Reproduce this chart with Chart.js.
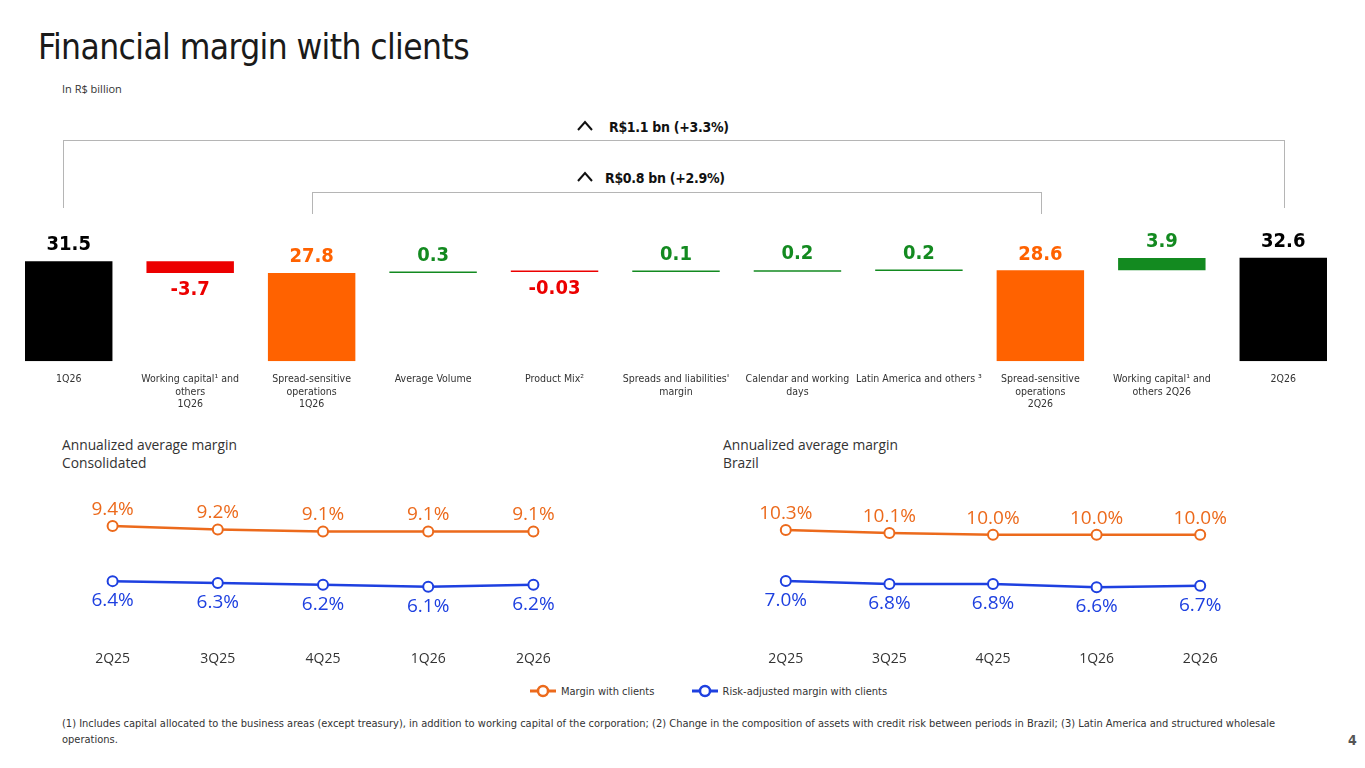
<!DOCTYPE html>
<html>
<head>
<meta charset="utf-8">
<script src="https://cdn.jsdelivr.net/npm/chart.js@4.4.1/dist/chart.umd.min.js"></script>
<style>
  body { margin: 0; width: 1365px; height: 768px; background: #fff; position: relative; overflow: hidden;
         font-family: "Liberation Sans Narrow", "DejaVu Sans Condensed", "Arial Narrow", sans-serif; color: #222; }
  .abs { position: absolute; }
  #title { left: 38px; top: 27px; font-size: 35px; letter-spacing: -0.6px; color: #1a1a1a; }
  #unit { left: 62px; top: 81px; font-family: "Open Sans", sans-serif; font-size: 11px; color: #333; }
  .hl { position: absolute; background: #b5b5b5; height: 1px; }
  .vl { position: absolute; background: #b5b5b5; width: 1px; }
  .bk { position: absolute; font-weight: bold; font-size: 14px; letter-spacing: -0.3px; color: #111; }
  .sub { position: absolute; font-family: "Open Sans", sans-serif; font-size: 13.8px; line-height: 18px; color: #333; }
  #legend { left: 530px; top: 684px; font-size: 11px; color: #333; white-space: nowrap; }
  #legend span.it { display: inline-flex; align-items: center; margin-right: 34px; }
  #legend svg { margin-right: 5px; }
  #foot { left: 62px; top: 716px; width: 1260px; font-size: 11px; line-height: 16px; color: #333; }
  #page { left: 1348px; top: 732px; font-size: 14px; font-weight: bold; color: #555; }
</style>
</head>
<body>
<div id="title" class="abs">Financial margin with clients</div>
<div id="unit" class="abs">In R$ billion</div>

<!-- brackets -->
<div class="hl" style="left:63px; top:140px; width:1222px;"></div>
<div class="vl" style="left:63px; top:140px; height:68px;"></div>
<div class="vl" style="left:1284px; top:140px; height:68px;"></div>
<div class="hl" style="left:312px; top:192px; width:730px;"></div>
<div class="vl" style="left:312px; top:192px; height:22px;"></div>
<div class="vl" style="left:1041px; top:192px; height:22px;"></div>
<svg class="abs" style="left:576px; top:119px;" width="20" height="14"><polyline points="2,11 9,3 16,11" fill="none" stroke="#111" stroke-width="2"/></svg>
<div class="bk" style="left:609px; top:119px;">R$1.1 bn (+3.3%)</div>
<svg class="abs" style="left:576px; top:170px;" width="20" height="14"><polyline points="2,11 9,3 16,11" fill="none" stroke="#111" stroke-width="2"/></svg>
<div class="bk" style="left:605px; top:170px;">R$0.8 bn (+2.9%)</div>

<canvas id="wf" class="abs" style="left:0; top:220px;" width="1365" height="203"></canvas>

<div class="sub" style="left:62px; top:436px;">Annualized average margin<br>Consolidated</div>
<div class="sub" style="left:723px; top:436px;">Annualized average margin<br>Brazil</div>
<canvas id="lc" class="abs" style="left:53px; top:480px;" width="540" height="199"></canvas>
<canvas id="rc" class="abs" style="left:727px; top:480px;" width="532" height="199"></canvas>

<div id="legend" class="abs">
  <span class="it"><svg width="26" height="14"><line x1="0" y1="7" x2="26" y2="7" stroke="#EC6A1C" stroke-width="3"/><circle cx="13" cy="7" r="5" fill="#fff" stroke="#EC6A1C" stroke-width="2.5"/></svg>Margin with clients</span>
  <span class="it"><svg width="26" height="14"><line x1="0" y1="7" x2="26" y2="7" stroke="#1E40E0" stroke-width="3"/><circle cx="13" cy="7" r="5" fill="#fff" stroke="#1E40E0" stroke-width="2.5"/></svg>Risk-adjusted margin with clients</span>
</div>
<div id="foot" class="abs">(1) Includes capital allocated to the business areas (except treasury), in addition to working capital of the corporation; (2) Change in the composition of assets with credit risk between periods in Brazil; (3) Latin America and structured wholesale operations.</div>
<div id="page" class="abs">4</div>

<script>
// waterfall data (R$ billion)
const wfLabels = [
  ["1Q26"],
  ["Working capital\u00b9 and", "others", "1Q26"],
  ["Spread-sensitive", "operations", "1Q26"],
  ["Average Volume"],
  ["Product Mix\u00b2"],
  ["Spreads and liabilities'", "margin"],
  ["Calendar and working", "days"],
  ["Latin America and others \u00b3"],
  ["Spread-sensitive", "operations", "2Q26"],
  ["Working capital\u00b9 and", "others 2Q26"],
  ["2Q26"]
];
const wfValues = [31.5, -3.7, 27.8, 0.3, -0.03, 0.1, 0.2, 0.2, 28.6, 3.9, 32.6];
const wfIsTotal = [true, false, true, false, false, false, false, false, true, false, true];
const wfKind = ["total", "neg", "sub", "pos", "neg", "pos", "pos", "pos", "sub", "pos", "total"];

// annualized average margin (%)
const quarters = ["2Q25", "3Q25", "4Q25", "1Q26", "2Q26"];
const consMargin = [9.4, 9.2, 9.1, 9.1, 9.1];
const consRiskAdj = [6.4, 6.3, 6.2, 6.1, 6.2];
const brMargin = [10.3, 10.1, 10.0, 10.0, 10.0];
const brRiskAdj = [7.0, 6.8, 6.8, 6.6, 6.7];

const COL = { total: "#000000", neg: "#EC0000", sub: "#FF6200", pos: "#138A20" };
const ORANGE = "#EC6A1C", BLUE = "#1E40E0";
const NARROW = "'Liberation Sans Narrow', 'DejaVu Sans Condensed', 'Arial Narrow', sans-serif";

// build floating ranges
let run = 0;
const wfRanges = wfValues.map((v, i) => {
  if (wfIsTotal[i]) { run = v; return [0, v]; }
  const r = [run, run + v];
  run += v;
  return r;
});

const wfLabelPlugin = {
  id: "wfLabels",
  afterDatasetsDraw(chart) {
    const ctx = chart.ctx;
    const meta = chart.getDatasetMeta(0);
    ctx.save();
    ctx.font = "bold 20px " + NARROW;
    ctx.textAlign = "center";
    meta.data.forEach((bar, i) => {
      const v = wfValues[i];
      ctx.fillStyle = COL[wfKind[i]];
      const top = Math.min(bar.y, bar.base), bottom = Math.max(bar.y, bar.base);
      if (v < 0) {
        ctx.textBaseline = "top";
        ctx.fillText(String(v), bar.x, bottom + 7);
      } else {
        ctx.textBaseline = "bottom";
        ctx.fillText(String(v), bar.x, top - 6);
      }
    });
    ctx.restore();
  }
};

new Chart(document.getElementById("wf"), {
  type: "bar",
  data: {
    labels: wfLabels,
    datasets: [{
      data: wfRanges,
      backgroundColor: wfKind.map(k => COL[k]),
      barPercentage: 0.72,
      categoryPercentage: 1.0,
      minBarLength: 1.5,
      borderSkipped: false
    }]
  },
  options: {
    responsive: false,
    animation: false,
    devicePixelRatio: 1,
    layout: { padding: { top: 20.5, left: 8, right: 21, bottom: 0 } },
    plugins: { legend: { display: false }, tooltip: { enabled: false } },
    scales: {
      x: {
        grid: { display: false, drawTicks: false },
        border: { display: false },
        ticks: { color: "#333", font: { family: NARROW, size: 10.5 }, padding: 12, maxRotation: 0, autoSkip: false }
      },
      y: { display: false, min: 0, max: 38 }
    }
  },
  plugins: [wfLabelPlugin]
});

function lineLabelPlugin(id) {
  return {
    id: id,
    afterDatasetsDraw(chart) {
      const ctx = chart.ctx;
      ctx.save();
      ctx.font = "19px 'Open Sans', sans-serif";
      ctx.textAlign = "center";
      chart.data.datasets.forEach((ds, di) => {
        const meta = chart.getDatasetMeta(di);
        ctx.fillStyle = ds.borderColor;
        meta.data.forEach((pt, i) => {
          const txt = ds.data[i].toFixed(1) + "%";
          if (di === 0) { ctx.textBaseline = "bottom"; ctx.fillText(txt, pt.x, pt.y - 7); }
          else { ctx.textBaseline = "top"; ctx.fillText(txt, pt.x, pt.y + 10); }
        });
      });
      ctx.restore();
    }
  };
}

function makeLine(id, a, b, ymin, ymax) {
  new Chart(document.getElementById(id), {
    type: "line",
    data: {
      labels: quarters,
      datasets: [
        { data: a, borderColor: ORANGE, backgroundColor: "#fff", borderWidth: 2.5, pointRadius: 5, pointBorderWidth: 2, pointBackgroundColor: "#fff" },
        { data: b, borderColor: BLUE, backgroundColor: "#fff", borderWidth: 2.5, pointRadius: 5, pointBorderWidth: 2, pointBackgroundColor: "#fff" }
      ]
    },
    options: {
      responsive: false,
      animation: false,
      devicePixelRatio: 1,
      layout: { padding: { top: 10, bottom: 0 } },
      plugins: { legend: { display: false }, tooltip: { enabled: false } },
      scales: {
        x: {
          offset: true,
          grid: { display: false, drawTicks: false },
          border: { display: false },
          ticks: { color: "#333", font: { family: "'Open Sans', sans-serif", size: 14 }, padding: 12 }
        },
        y: { display: false, min: ymin, max: ymax }
      }
    },
    plugins: [lineLabelPlugin(id + "Labels")]
  });
}

makeLine("lc", consMargin, consRiskAdj, 3.3, 11.35);
makeLine("rc", brMargin, brRiskAdj, 3.3, 12.89);
</script>
</body>
</html>
